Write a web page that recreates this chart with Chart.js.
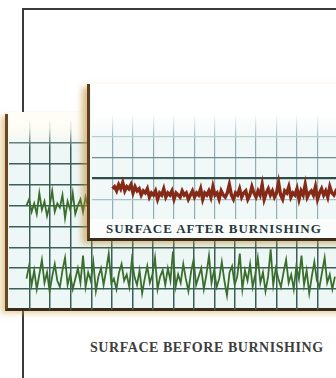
<!DOCTYPE html>
<html>
<head>
<meta charset="utf-8">
<script src="https://cdn.jsdelivr.net/npm/chart.js@4.4.1/dist/chart.umd.min.js"></script>
<style>
  html, body { margin: 0; padding: 0; background: #fff; }
  #stage { position: relative; width: 336px; height: 378px; overflow: hidden; background: #fff; }
  .frame-top { position: absolute; left: 22px; top: 8px; width: 320px; height: 2px; background: #3a3a3a; }
  .frame-left { position: absolute; left: 22px; top: 8px; width: 2px; height: 372px; background: #3a3a3a; }
  #backCard {
    position: absolute; left: 5px; top: 114px; width: 340px; height: 194px;
    background: #edf7f6;
    border-left: 3px solid #6a4522; border-bottom: 3px solid #3a2c1c;
    box-shadow: -4px 2px 6px rgba(205, 165, 70, 0.55);
  }
  #frontCard {
    position: absolute; left: 87px; top: 84px; width: 260px; height: 154px;
    background: #f1f8f8;
    border-left: 3px solid #5e3d1c; border-bottom: 3px solid #3a2c1c;
    box-shadow: -5px 3px 6px rgba(190, 140, 50, 0.55);
  }
  canvas { position: absolute; }
  #backChart { left: 9px; top: 122px; }
  #frontChart { left: 92px; top: 116px; }
  .strip { position: absolute; left: 90px; top: 219px; width: 250px; height: 19px; background: #fbfdfd; }
  .haze { position: absolute; pointer-events: none; }
  #frontHaze { left: 91px; top: 84px; width: 250px; height: 58px;
    background: linear-gradient(to bottom, rgba(255,255,255,1) 0%, rgba(255,255,255,0.92) 55%, rgba(255,255,255,0) 100%); }
  #backHaze { left: 8px; top: 112px; width: 80px; height: 36px;
    background: linear-gradient(to bottom, rgba(255,253,245,1) 0%, rgba(255,253,245,0.85) 45%, rgba(255,253,245,0) 100%); }
  .label { position: absolute; white-space: nowrap; font-family: "Liberation Serif", "DejaVu Serif", serif; font-weight: bold; }
  #afterLabel { left: 106px; top: 221px; font-size: 13px; letter-spacing: 0.9px; color: #25383a; }
  #beforeLabel { left: 90px; top: 340px; font-size: 14px; letter-spacing: 0.55px; color: #3d3d3d; }
</style>
</head>
<body>
<div id="stage">
  <div class="frame-top"></div>
  <div class="frame-left"></div>
  <div id="backCard"></div>
  <canvas id="backChart" width="329" height="188"></canvas>
  <div id="backHaze" class="haze"></div>
  <div id="frontCard"></div>
  <canvas id="frontChart" width="246" height="104"></canvas>
  <div class="strip"></div>
  <div id="frontHaze" class="haze"></div>
  <div id="afterLabel" class="label">SURFACE AFTER BURNISHING</div>
  <div id="beforeLabel" class="label">SURFACE BEFORE BURNISHING</div>
</div>
<script>
// profile traces, in grid divisions
const beforeStart = 0.85;
const beforeStep = 0.125;
const beforeLower = [
  1.5,2.1,1.2,1.9,1.0,1.7,2.4,1.3,1.8,0.9,1.6,2.2,1.4,1.1,1.9,2.5,1.2,1.7,1.0,1.5,
  2.0,1.3,2.6,1.1,1.8,1.4,2.3,0.9,1.6,2.0,1.2,1.9,2.7,1.3,1.5,1.0,1.8,2.2,1.4,1.7,
  1.1,2.4,1.6,1.2,1.9,0.8,1.5,2.1,1.3,1.7,2.5,1.0,1.6,1.9,1.2,2.0,1.4,2.8,1.1,1.7,
  1.3,2.2,1.5,0.9,1.8,2.4,1.2,1.6,2.0,1.0,1.7,2.6,1.3,1.9,1.1,1.5,2.3,1.4,0.7,1.8,
  2.1,1.2,1.6,2.7,1.0,1.9,1.4,2.2,1.1,1.7,2.5,1.3,1.8,0.9,1.6,2.9,1.2,2.0,1.5,1.1,
  1.8,2.4,1.3,1.7,1.0,2.1,1.5,2.6,1.2,1.9,0.8,1.6,2.3,1.4,1.1,1.8,2.5,1.3,1.7,1.0,1.6
];
const beforeUpper = [
  5.0,5.3,4.7,5.1,4.6,5.6,4.8,5.2,4.5,5.0,5.7,4.7,5.1,4.9,5.5,4.4,5.2,4.8,5.6,4.6,
  5.0,5.3,4.7,5.4,4.9,5.1
];
const afterStart = 1.0;
const afterStep = 0.1;
const afterTrace = [
  1.5,1.6,1.4,1.7,1.5,1.8,1.4,1.6,1.5,1.7,
  1.3,1.6,1.4,1.5,1.2,1.4,1.3,1.5,1.1,1.3,
  1.2,1.4,1.0,1.3,1.2,1.5,1.1,1.3,1.2,1.4,
  1.0,1.3,1.2,1.1,1.4,1.2,1.3,1.0,1.2,1.4,
  1.1,1.3,1.2,1.5,1.0,1.3,1.2,1.4,1.1,1.6,
  1.2,1.3,1.0,1.4,1.2,1.1,1.3,1.7,1.2,1.0,
  1.3,1.2,1.5,1.1,1.3,1.4,1.0,1.2,1.6,1.3,
  1.1,1.4,1.2,1.7,1.0,1.3,1.5,1.2,1.4,1.1,
  1.3,1.8,1.2,1.0,1.4,1.3,1.6,1.1,1.3,1.2,
  1.5,1.0,1.4,1.2,1.7,1.1,1.3,1.4,1.2,1.6,
  1.0,1.3,1.5,1.2,1.4,1.1,1.6,1.3,1.2,1.4,1.3
];

function toPoints(values, start, step) {
  return values.map((v, i) => ({ x: start + i * step, y: v }));
}

function gridAxis(max, colorFn, widthFn) {
  return {
    type: 'linear', min: 0, max: max,
    border: { display: false },
    ticks: { display: false, stepSize: 1 },
    grid: { drawTicks: false, color: colorFn, lineWidth: widthFn }
  };
}

const baseOptions = {
  responsive: false,
  animation: false,
  devicePixelRatio: 1,
  layout: { padding: 0 },
  plugins: { legend: { display: false }, tooltip: { enabled: false } },
  elements: { point: { radius: 0 }, line: { tension: 0 } }
};

// paper strip before burnishing
new Chart(document.getElementById('backChart'), {
  type: 'line',
  data: {
    datasets: [
      { data: toPoints(beforeLower, beforeStart, beforeStep), borderColor: '#3a6e2c', borderWidth: 1.8 },
      { data: toPoints(beforeUpper, beforeStart, beforeStep), borderColor: '#3a6e2c', borderWidth: 1.8 }
    ]
  },
  options: {
    ...baseOptions,
    scales: {
      x: gridAxis(16, c => (c.tick.value === 0 || c.tick.value === 16) ? 'rgba(0,0,0,0)' : '#3c5e57', () => 1.5),
      y: gridAxis(9, c => (c.tick.value === 0 || c.tick.value === 9) ? 'rgba(0,0,0,0)' : '#3c5e57', () => 1.5)
    }
  }
});

// paper strip after burnishing
new Chart(document.getElementById('frontChart'), {
  type: 'line',
  data: {
    datasets: [
      { data: toPoints(afterTrace, afterStart, afterStep), borderColor: '#862a18', borderWidth: 3.4 }
    ]
  },
  options: {
    ...baseOptions,
    scales: {
      x: gridAxis(12, c => c.tick.value === 0 ? 'rgba(0,0,0,0)' : '#93adb3', () => 1.2),
      y: gridAxis(5,
        c => c.tick.value === 2 ? '#2f4b48' : (c.tick.value === 3 ? '#6f8d92' : (c.tick.value === 0 || c.tick.value === 5 ? 'rgba(0,0,0,0)' : '#a9c1c6')),
        c => c.tick.value === 2 ? 2.2 : 1.2)
    }
  }
});
</script>
</body>
</html>
